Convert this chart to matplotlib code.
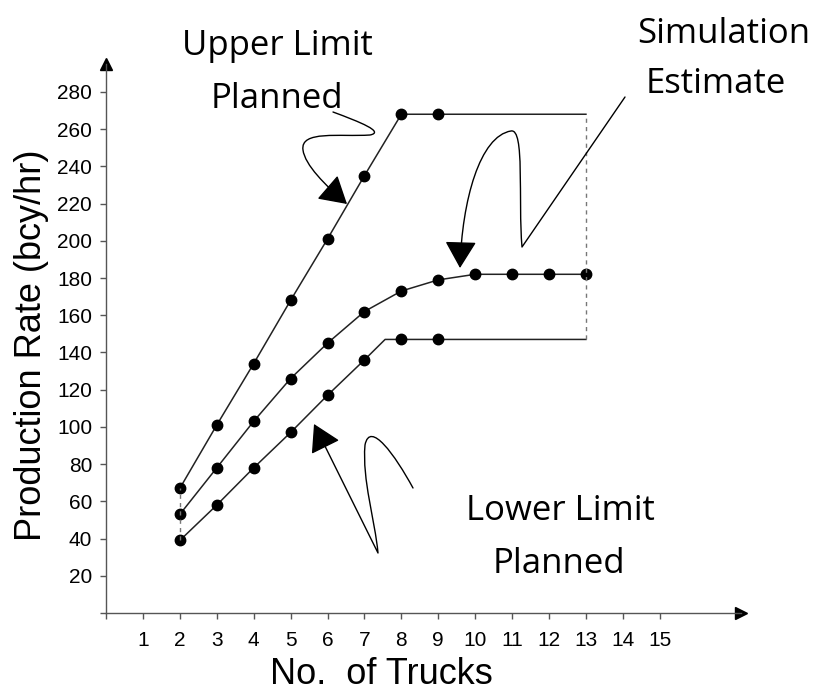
import matplotlib.pyplot as plt
import numpy as np
from matplotlib.path import Path
from matplotlib.patches import FancyArrowPatch
from matplotlib.transforms import Affine2D

# data
trucks = [2, 3, 4, 5, 6, 7, 8, 9]
upper = [67, 101, 134, 168, 201, 235, 268, 268]
lower = [39, 58, 78, 97, 117, 136, 147, 147]
sim_trucks = [2, 3, 4, 5, 6, 7, 8, 9, 10, 11, 12, 13]
sim = [53, 78, 103, 126, 145, 162, 173, 179, 182, 182, 182, 182]
lower_knee = 7.56   # where lower limit line flattens
end_trucks = 13     # limit lines carried on to here

yticks = list(range(20, 281, 20))
xticks = list(range(1, 16))

W, H = 824, 690
fig = plt.figure(figsize=(W / 100, H / 100), dpi=100)
ax = fig.add_axes([106 / W, 77 / H, 635 / W, 549 / H])
ax.set_xlim(0, 17.2)
ax.set_ylim(0, 295)

for s in ['top', 'right']:
    ax.spines[s].set_visible(False)
for s in ['left', 'bottom']:
    ax.spines[s].set_color('#555555')
    ax.spines[s].set_linewidth(1.0)

# axis arrowheads
ax.plot(1, 0, '>', color='black', ms=9, transform=ax.transAxes, clip_on=False)
ax.plot(0, 1, '^', color='black', ms=9, transform=ax.transAxes, clip_on=False)

ax.set_xticks([0] + xticks)
ax.set_xticklabels([''] + [str(t) for t in xticks])
ax.set_yticks([0] + yticks)
ax.set_yticklabels([''] + [str(t) for t in yticks])
ax.tick_params(direction='out', length=4, width=1, color='#555555')
ax.tick_params(axis='x', labelsize=15, pad=9)
ax.tick_params(axis='y', labelsize=15, pad=6)
for lab in ax.get_xticklabels() + ax.get_yticklabels():
    lab.set_family('Liberation Sans')

ax.set_xlabel('No.  of Trucks', family='Liberation Sans', fontsize=26)
ax.xaxis.set_label_coords(0.433, (613 - 674) / 549)
ax.xaxis.label.set_va('center')
ax.set_ylabel('Production Rate (bcy/hr)', family='Liberation Sans', fontsize=26)
ax.yaxis.set_label_coords((32 - 106) / 635, (613 - 345) / 549)
ax.yaxis.label.set_va('center')

# limit lines
ax.plot(trucks + [end_trucks], upper + [upper[-1]], color='#222222', lw=1.1)
ax.plot(trucks[:6] + [lower_knee, end_trucks], lower[:6] + [lower[-1], lower[-1]],
        color='#222222', lw=1.1)
ax.plot(sim_trucks, sim, color='#222222', lw=1.1)

ax.plot(trucks, upper, 'o', color='black', ms=7.5)
ax.plot(trucks, lower, 'o', color='black', ms=7.5)
ax.plot(sim_trucks, sim, 'o', color='black', ms=7.5)

# dashed bounds
ax.plot([end_trucks, end_trucks], [lower[-1], upper[-1]], ls=(0, (3, 3)), color='#777777', lw=1)
ax.plot([trucks[0], trucks[0]], [lower[0], upper[0]], ls=(0, (3, 3)), color='#777777', lw=1)

# wiggly pointer arrows, in picture pixels (y down)
px = Affine2D().scale(1 / W, -1 / H).translate(0, 1) + fig.transFigure
M, C, L = Path.MOVETO, Path.CURVE4, Path.LINETO

arrows = [
    ([(333, 112), (360, 122), (385, 132), (370, 135),
      (340, 137), (300, 130), (303, 150),
      (305, 165), (325, 185), (347, 204)],
     [M, C, C, C, C, C, C, C, C, C]),
    ([(625, 97), (522, 247),
      (518, 200), (525, 128), (511, 131),
      (480, 136), (462, 200), (460, 268)],
     [M, L, C, C, C, C, C, C]),
    ([(413, 488), (395, 455), (370, 420), (365, 445),
      (362, 480), (375, 520), (378, 553), (314, 424)],
     [M, C, C, C, C, C, C, L]),
]
for verts, codes in arrows:
    a = FancyArrowPatch(path=Path(verts, codes), transform=px,
                        arrowstyle='-|>,head_length=0.85,head_width=0.5',
                        mutation_scale=20, color='black', lw=1.0)
    fig.patches.append(a)

# callout labels, one line at a time (x centre, baseline)
callouts = [('Upper Limit', 277, 55), ('Planned', 277, 108),
            ('Simulation', 724, 43), ('Estimate', 716, 93),
            ('Lower Limit', 560, 520), ('Planned', 559, 573)]
for txt, cx, by in callouts:
    fig.text(cx / W, 1 - by / H, txt, family='Open Sans', fontsize=25,
             ha='center', va='baseline')

fig.savefig('out.png', dpi=100)
